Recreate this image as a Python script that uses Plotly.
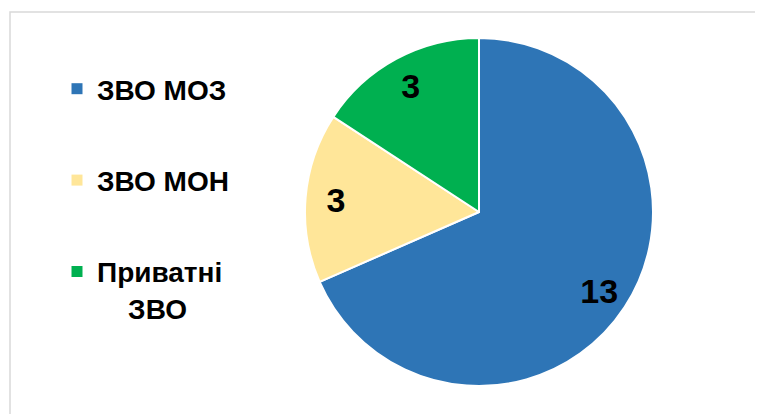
import plotly.graph_objects as go

labels = ["ЗВО МОЗ", "ЗВО МОН", "Приватні ЗВО"]
legend_names = ["ЗВО МОЗ", "ЗВО МОН", "Приватні<br>\u00a0\u00a0\u00a0\u00a0ЗВО"]
values = [13, 3, 3]
colors = ["#2E75B6", "#FFE699", "#00B050"]

# page has an 8px body margin; figure sized to fill the rest of the window
W, H = 755, 406
OFF = 8

cx, cy, R = 479 - OFF, 212 - OFF, 174
dom = dict(x=[(cx - R) / W, (cx + R) / W], y=[(H - cy - R) / H, (H - cy + R) / H])

fig = go.Figure()

# coloured slices
fig.add_trace(go.Pie(
    labels=labels,
    values=values,
    sort=False,
    direction="clockwise",
    rotation=0,
    marker=dict(colors=colors, line=dict(color="white", width=2)),
    textinfo="none",
    showlegend=False,
    hoverinfo="label+value",
    domain=dom,
))

# transparent ring carrying the value labels (places them toward the rim)
fig.add_trace(go.Pie(
    labels=labels,
    values=values,
    sort=False,
    direction="clockwise",
    rotation=0,
    hole=0.65,
    marker=dict(colors=["rgba(0,0,0,0)"] * 3, line=dict(width=0)),
    textinfo="value",
    textposition="inside",
    insidetextorientation="horizontal",
    textfont=dict(family="Arial", size=34, color="black", weight="bold"),
    showlegend=False,
    hoverinfo="skip",
    domain=dom,
))

for i, (name, c) in enumerate(zip(legend_names, colors)):
    fig.add_trace(go.Scatter(
        x=[None], y=[None], mode="markers", name=name,
        marker=dict(symbol="square", size=11, color=c),
        legendgroup=f"g{i}", showlegend=True,
    ))

fig.update_layout(
    width=W, height=H,
    margin=dict(l=0, r=0, t=0, b=0),
    paper_bgcolor="white",
    plot_bgcolor="white",
    xaxis=dict(visible=False),
    yaxis=dict(visible=False),
    showlegend=True,
    legend=dict(
        x=49 / W, y=1 - 56 / H, xanchor="left", yanchor="top",
        font=dict(family="Arial", size=28, color="black", weight="bold"),
        tracegroupgap=52,
        valign="top",
        bgcolor="rgba(0,0,0,0)",
    ),
    shapes=[dict(
        type="rect", xref="paper", yref="paper",
        x0=2 / W, x1=1.05, y0=-0.05, y1=1 - 4 / H,
        line=dict(color="#D9D9D9", width=1.5),
        fillcolor="rgba(0,0,0,0)", layer="below",
    )],
)

fig.write_html("out.html")
